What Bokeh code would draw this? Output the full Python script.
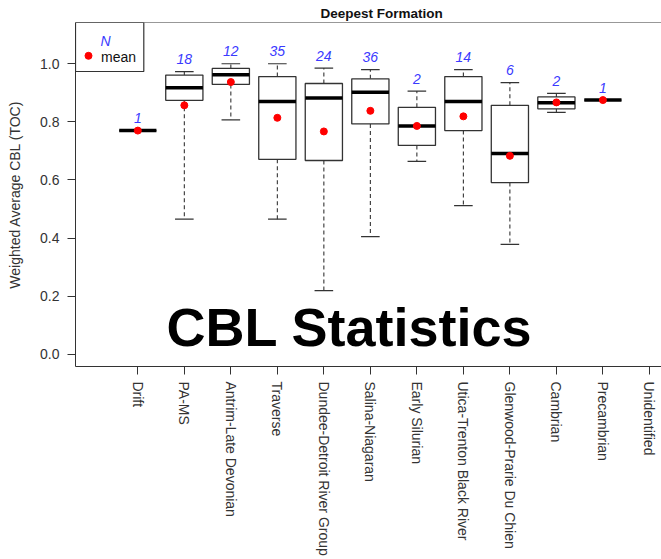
from bokeh.plotting import figure
from bokeh.models import (Range1d, FixedTicker, Span, BoxAnnotation, Label,
                          LabelSet, ColumnDataSource, PrintfTickFormatter)
from bokeh.core.properties import value
from bokeh.embed import file_html
from bokeh.resources import INLINE
import numpy as np

# ---------------- data ----------------
categories = ["Drift", "PA-MS", "Antrim-Late Devonian", "Traverse",
              "Dundee-Detroit River Group", "Salina-Niagaran", "Early Silurian",
              "Utica-Trenton Black River", "Glenwood-Prarie Du Chien",
              "Cambrian", "Precambrian", "Unidentified"]
n_obs     = [1, 18, 12, 35, 24, 36, 2, 14, 6, 2, 1, None]
whisk_hi  = [0.770, 0.973, 1.000, 1.000, 0.985, 0.980, 0.906, 0.980, 0.935, 0.898, 0.875, None]
q3        = [0.770, 0.961, 0.984, 0.956, 0.932, 0.948, 0.850, 0.956, 0.857, 0.886, 0.875, None]
medians   = [0.770, 0.917, 0.962, 0.870, 0.882, 0.902, 0.786, 0.870, 0.691, 0.866, 0.875, None]
q1        = [0.770, 0.874, 0.929, 0.671, 0.667, 0.793, 0.719, 0.770, 0.591, 0.845, 0.875, None]
whisk_lo  = [0.770, 0.465, 0.807, 0.465, 0.219, 0.405, 0.664, 0.512, 0.378, 0.833, 0.875, None]
means     = [0.770, 0.857, 0.937, 0.814, 0.767, 0.838, 0.786, 0.819, 0.683, 0.867, 0.875, None]
y_ticks   = [0.0, 0.2, 0.4, 0.6, 0.8, 1.0]

# ---------------- layout constants ----------------
W, H = 661, 559
FL, FT, FB = 75, 22, 366
XS, XE = -0.34, 12.26
YS, YE = -0.042, 1.142
PXX = (XE - XS) / (W - FL)
PXY = (YE - YS) / (FB - FT)
FONT = "Liberation Sans"
AX = "#333333"
BOXW = 0.8
CAPW = 0.4

idx = [i for i, n in enumerate(n_obs) if n is not None]
pos = np.array([i + 1 for i in idx], dtype=float)
sel = lambda a: np.array([a[i] for i in idx], dtype=float)
src = ColumnDataSource(dict(
    x=pos, hi=sel(whisk_hi), q3=sel(q3), med=sel(medians), q1=sel(q1),
    lo=sel(whisk_lo), mean=sel(means),
    xl=pos - BOXW / 2, xr=pos + BOXW / 2,
    cl=pos - CAPW / 2, cr=pos + CAPW / 2,
    n=[str(n_obs[i]) for i in idx],
))

p = figure(width=W, height=H, x_range=Range1d(XS, XE), y_range=Range1d(YS, YE),
           output_backend="svg", toolbar_location=None,
           min_border_left=FL, min_border_right=0, min_border_top=FT,
           min_border_bottom=H - FB, title="Deepest Formation")
p.background_fill_color = "white"
p.border_fill_color = "white"
p.outline_line_color = None
p.xgrid.grid_line_color = None
p.ygrid.grid_line_color = None

p.title.text_font = FONT
p.title.text_font_size = "13.5px"
p.title.text_font_style = "bold"
p.title.text_color = "#111111"
p.title.align = "left"
p.title.offset = 245
p.title.standoff = 3

# axes
for ax in (p.xaxis[0], p.yaxis[0]):
    ax.axis_line_color = AX
    ax.major_tick_line_color = AX
    ax.minor_tick_line_color = None
    ax.major_tick_out = 8
    ax.major_tick_in = 0
    ax.major_label_text_font = FONT
    ax.major_label_text_font_size = "14px"
    ax.major_label_text_color = "#333333"
    ax.axis_label_text_font = FONT

p.yaxis.ticker = FixedTicker(ticks=y_ticks)
p.yaxis.formatter = PrintfTickFormatter(format="%.1f")
p.yaxis.major_label_standoff = 8
p.yaxis.axis_label = "Weighted Average CBL (TOC)"
p.yaxis.axis_label_text_font_size = "14px"
p.yaxis.axis_label_text_font_style = "normal"
p.yaxis.axis_label_text_color = "#333333"
p.yaxis.axis_label_standoff = 14

p.xaxis.ticker = FixedTicker(ticks=list(range(1, len(categories) + 1)))
p.xaxis.major_label_overrides = {i + 1: c for i, c in enumerate(categories)}
p.xaxis.major_label_orientation = "vertical"
p.xaxis.major_label_standoff = 7

p.add_layout(Span(location=YE, dimension="width", line_color=AX, line_width=1.2))

# whiskers
p.segment(x0="x", y0="q3", x1="x", y1="hi", source=src, line_color=AX,
          line_width=1.1, line_dash="4 3")
p.segment(x0="x", y0="q1", x1="x", y1="lo", source=src, line_color=AX,
          line_width=1.1, line_dash="4 3")
p.segment(x0="cl", y0="hi", x1="cr", y1="hi", source=src, line_color=AX, line_width=1.2)
p.segment(x0="cl", y0="lo", x1="cr", y1="lo", source=src, line_color=AX, line_width=1.2)
# boxes
p.vbar(x="x", width=BOXW, top="q3", bottom="q1", source=src, fill_color="white",
       line_color=AX, line_width=1.3)
# medians
p.segment(x0="xl", y0="med", x1="xr", y1="med", source=src, line_color="black",
          line_width=3.5)
# means
p.scatter(x="x", y="mean", source=src, marker="circle", size=7,
          fill_color="#ff0000", line_color="#ff0000")
# N labels
p.add_layout(LabelSet(x="x", y="hi", text="n", source=src, y_offset=12.5,
                      text_align="center", text_baseline="middle",
                      text_font=value(FONT), text_font_size="14px",
                      text_font_style="italic", text_color="#3a3aff"))

# legend box
p.add_layout(BoxAnnotation(left=XS, right=XS + 68.3 * PXX, top=YE,
                           bottom=YE - 49 * PXY, fill_alpha=0,
                           line_color=AX, line_width=1.2, line_alpha=1))
p.scatter(x=[XS + 13 * PXX], y=[YE - 33.3 * PXY], marker="circle", size=7,
          fill_color="#ff0000", line_color="#ff0000")
p.add_layout(Label(x=XS + 25.5 * PXX, y=YE - 34.5 * PXY, text="mean",
                   text_baseline="middle", text_align="left", text_font=FONT,
                   text_font_size="14px", text_color="#111111"))
p.add_layout(Label(x=XS + 25 * PXX, y=YE - 18.3 * PXY, text="N",
                   text_baseline="middle", text_align="left", text_font=FONT,
                   text_font_size="14px", text_font_style="italic",
                   text_color="#3a3aff"))

# big overlay text
p.add_layout(Label(x=XS + 91 * PXX, y=YS + 39.5 * PXY, text="CBL Statistics",
                   text_baseline="middle", text_align="left", text_font=FONT,
                   text_font_size="54px", text_font_style="bold",
                   text_color="black"))

open("out.html", "w").write(file_html(p, INLINE))
